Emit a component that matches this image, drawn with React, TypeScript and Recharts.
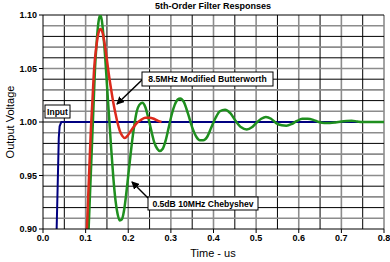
import React from 'react'
import { LineChart, Line, XAxis, YAxis, ReferenceLine } from 'recharts'

// Time axis (us) and output voltage ticks
const xTicks = [0, 0.1, 0.2, 0.3, 0.4, 0.5, 0.6, 0.7, 0.8]
const yTicks = [0.9, 0.95, 1.0, 1.05, 1.1]
const xGrid = [0.05, 0.1, 0.15, 0.2, 0.25, 0.3, 0.35, 0.4, 0.45, 0.5, 0.55, 0.6, 0.65, 0.7, 0.75, 0.8]
const yGrid = [0.91, 0.92, 0.93, 0.94, 0.95, 0.96, 0.97, 0.98, 0.99, 1.0, 1.01, 1.02, 1.03, 1.04, 1.05, 1.06, 1.07, 1.08, 1.09, 1.1]

// Input step
const inputT = [0.0, 0.031, 0.032, 0.035, 0.037, 0.039, 0.043, 0.8]
const inputV = [0.85, 0.85, 0.9, 0.95, 0.985, 0.996, 1.0, 1.0]

// 8.5MHz Modified Butterworth
const buttT = [0.1, 0.103, 0.106, 0.109, 0.112, 0.116, 0.12, 0.125, 0.13, 0.135, 0.14, 0.145, 0.15, 0.155, 0.16, 0.165, 0.17, 0.175, 0.18, 0.186, 0.192, 0.198, 0.205, 0.212, 0.22, 0.23, 0.24, 0.25, 0.26, 0.27, 0.278]
const buttV = [0.88, 0.9, 0.93, 0.96, 0.99, 1.02, 1.05, 1.07, 1.083, 1.087, 1.083, 1.072, 1.058, 1.043, 1.03, 1.018, 1.008, 0.999, 0.992, 0.987, 0.985, 0.987, 0.991, 0.995, 0.999, 1.002, 1.004, 1.004, 1.003, 1.001, 1.0]

// 0.5dB 10MHz Chebyshev
const chebT = [0.104, 0.107, 0.11, 0.113, 0.116, 0.119, 0.122, 0.126, 0.13, 0.134, 0.138, 0.142, 0.146, 0.15, 0.155, 0.16, 0.165, 0.17, 0.175, 0.18, 0.185, 0.19, 0.195, 0.2, 0.205, 0.21, 0.215, 0.22, 0.226, 0.233, 0.24, 0.247, 0.254, 0.261, 0.268, 0.274, 0.281, 0.288, 0.295, 0.302, 0.309, 0.316, 0.322, 0.33, 0.34, 0.35, 0.36, 0.368, 0.376, 0.385, 0.395, 0.405, 0.415, 0.427, 0.44, 0.452, 0.465, 0.478, 0.49, 0.5, 0.512, 0.523, 0.535, 0.547, 0.56, 0.571, 0.583, 0.596, 0.608, 0.621, 0.634, 0.647, 0.66, 0.673, 0.686, 0.7, 0.712, 0.724, 0.737, 0.75, 0.8]
const chebV = [0.88, 0.9, 0.93, 0.96, 0.99, 1.02, 1.05, 1.075, 1.093, 1.1, 1.095, 1.08, 1.06, 1.035, 1.005, 0.975, 0.948, 0.927, 0.914, 0.908, 0.909, 0.917, 0.932, 0.95, 0.968, 0.985, 0.999, 1.01, 1.016, 1.018, 1.014, 1.004, 0.992, 0.981, 0.975, 0.973, 0.975, 0.983, 0.995, 1.007, 1.016, 1.021, 1.022, 1.019, 1.008, 0.995, 0.986, 0.983, 0.983, 0.986, 0.995, 1.004, 1.01, 1.0115, 1.008, 1.001, 0.995, 0.993, 0.995, 0.999, 1.003, 1.0047, 1.003, 0.999, 0.997, 0.9966, 0.998, 1.001, 1.003, 1.003, 1.002, 1.0, 0.999, 0.999, 0.9995, 1.0005, 1.001, 1.0012, 1.0005, 1.0, 1.0]

const zip = (ts: number[], vs: number[]) => ts.map((t, i) => ({ t, v: vs[i] }))
const inputData = zip(inputT, inputV)
const buttData = zip(buttT, buttV)
const chebData = zip(chebT, chebV)

const font = '"Liberation Sans", Arial, sans-serif'

function Box({ x, y, w, h, text, size }: { x: number; y: number; w: number; h: number; text: string; size: number }) {
  return (
    <g>
      <rect x={x} y={y} width={w} height={h} fill="#fff" stroke="#000" strokeWidth={1} />
      <text x={x + w / 2} y={y + h / 2 + 3.2} textAnchor="middle" fontSize={size} fontWeight="bold" fontFamily={font} fill="#000">
        {text}
      </text>
    </g>
  )
}

export default function App() {
  return (
    <div style={{ position: 'absolute', left: 0, top: 0, width: 390, height: 262, background: '#fff' }}>
      <LineChart width={390} height={262} data={inputData} margin={{ top: 15, right: 6, bottom: 3, left: 0 }}>
        <XAxis
          dataKey="t"
          type="number"
          domain={[0, 0.8]}
          ticks={xTicks}
          allowDataOverflow
          height={30}
          tickFormatter={(v: number) => v.toFixed(1)}
          tick={{ fontSize: 9, fontWeight: 'bold', fill: '#000', fontFamily: font }}
          tickSize={4}
          tickLine={{ stroke: '#000' }}
          axisLine={{ stroke: '#000' }}
        />
        <YAxis
          type="number"
          domain={[0.9, 1.1]}
          ticks={yTicks}
          allowDataOverflow
          width={43}
          tickFormatter={(v: number) => v.toFixed(2)}
          tick={{ fontSize: 9, fontWeight: 'bold', fill: '#000', fontFamily: font }}
          tickSize={4}
          tickLine={{ stroke: '#000' }}
          axisLine={{ stroke: '#000' }}
        />
        {xGrid.map((g, i) => (
          <ReferenceLine key={`x${i}`} x={g} stroke={i % 2 === 1 ? '#8c8c8c' : '#000'} strokeWidth={i % 2 === 1 ? 1.6 : 1} />
        ))}
        {yGrid.map((g, i) => (
          <ReferenceLine key={`y${i}`} y={g} stroke={i % 2 === 0 ? '#8c8c8c' : '#000'} strokeWidth={i % 2 === 0 ? 1.6 : 1} />
        ))}
        <Line data={inputData} dataKey="v" type="linear" stroke="#000080" strokeWidth={2} dot={false} isAnimationActive={false} />
        <Line data={chebData} dataKey="v" type="monotone" stroke="#1f8f1f" strokeWidth={2.5} dot={false} isAnimationActive={false} />
        <Line data={buttData} dataKey="v" type="monotone" stroke="#dc2a1c" strokeWidth={2.5} dot={false} isAnimationActive={false} />
      </LineChart>
      <svg width={390} height={262} style={{ position: 'absolute', left: 0, top: 0, pointerEvents: 'none' }}>
        <defs>
          <marker id="arr" markerWidth="8" markerHeight="8" refX="7" refY="4" orient="auto" markerUnits="userSpaceOnUse">
            <path d="M0,0 L8,4 L0,8 z" fill="#000" />
          </marker>
        </defs>
        <text x={213} y={9} textAnchor="middle" fontSize={9} fontWeight="bold" fontFamily={font} fill="#000">
          5th-Order Filter Responses
        </text>
        <text x={213} y={257} textAnchor="middle" fontSize={11} fontFamily={font} fill="#000">
          Time - us
        </text>
        <text x={14} y={122} transform="rotate(-90 14 122)" textAnchor="middle" fontSize={11} fontFamily={font} fill="#000">
          Output Voltage
        </text>
        <line x1={143} y1={79} x2={117} y2={104} stroke="#000" strokeWidth={1.5} markerEnd="url(#arr)" />
        <line x1={148} y1={198} x2={132} y2={182} stroke="#000" strokeWidth={1.5} markerEnd="url(#arr)" />
        <Box x={45} y={105} w={25} h={13} text="Input" size={8.5} />
        <Box x={142} y={72} w={131} h={14} text="8.5MHz Modified Butterworth" size={8.6} />
        <Box x={148} y={197} w={110} h={13} text="0.5dB 10MHz Chebyshev" size={8.6} />
      </svg>
    </div>
  )
}
